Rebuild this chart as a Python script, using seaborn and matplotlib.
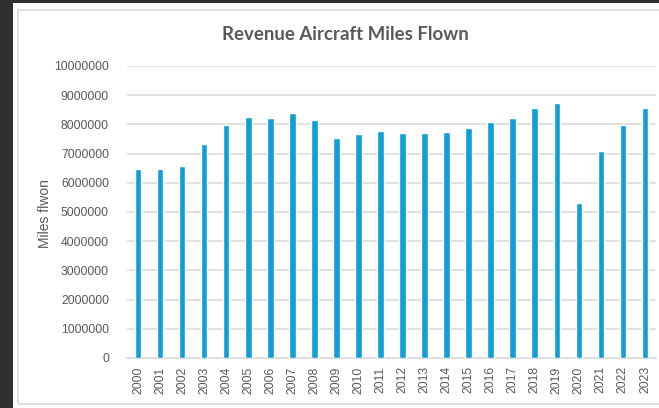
import matplotlib
matplotlib.use("Agg")
import matplotlib.pyplot as plt
from matplotlib.patches import Rectangle
import seaborn as sns
import pandas as pd

years = [str(y) for y in range(2000, 2024)]
miles_flown = [
    6460000, 6460000, 6560000, 7330000, 7970000, 8260000, 8210000, 8400000,
    8140000, 7520000, 7670000, 7760000, 7720000, 7720000, 7740000, 7870000,
    8070000, 8210000, 8550000, 8740000, 5300000, 7100000, 7990000, 8570000,
]
y_ticks = list(range(0, 10000001, 1000000))

title_text = "Revenue Aircraft Miles Flown"
y_label = "Miles flwon"

bar_color = "#0F9ED5"
grid_color = "#D9D9D9"
text_color = "#595959"

df = pd.DataFrame({"year": years, "miles": miles_flown})

sns.set_theme(style="white")
plt.rcParams["font.family"] = ["Liberation Sans", "DejaVu Sans"]

W, H = 659, 408
fig = plt.figure(figsize=(W / 100, H / 100), dpi=100, facecolor="#303030")

# white chart panel with a thin light border, kept beneath the axes
fig.patches.append(Rectangle((13 / W, 0), 1, 1 - 3 / H, transform=fig.transFigure,
                             facecolor="white", edgecolor="none", zorder=-2))
fig.patches.append(Rectangle((18 / W, 1 - 404 / H), 1, (404 - 10) / H,
                             transform=fig.transFigure, facecolor="none",
                             edgecolor="#DCDCDC", linewidth=1.2, zorder=-1))

ax = fig.add_axes([127 / W, 1 - 358 / H, 529 / W, (358 - 66) / H])
ax.set_facecolor("none")
ax.set_zorder(2)

sns.barplot(data=df, x="year", y="miles", color=bar_color, width=0.3,
            saturation=1, ax=ax, zorder=3)

ax.set_ylim(0, 10000000)
ax.set_xlim(-0.5, len(years) - 0.5)
ax.set_yticks(y_ticks)
ax.set_yticklabels([str(v) for v in y_ticks])
ax.set_axisbelow(True)
ax.yaxis.grid(True, color=grid_color, linewidth=1.1)
ax.xaxis.grid(False)
for side in ["top", "right", "left"]:
    ax.spines[side].set_visible(False)
ax.spines["bottom"].set_color(grid_color)
ax.spines["bottom"].set_linewidth(1.1)
ax.tick_params(axis="both", length=0, labelsize=8.7, colors=text_color)
ax.tick_params(axis="y", pad=13)
ax.tick_params(axis="x", pad=6)
plt.setp(ax.get_xticklabels(), rotation=90)
ax.set_xlabel("")
ax.set_ylabel("")

fig.text(45 / W, 1 - 214 / H, y_label, rotation=90, ha="center", va="center",
         fontsize=10, color=text_color)
fig.text(345 / W, 1 - 34 / H, title_text, ha="center", va="center",
         fontsize=13.4, fontweight="bold", color=text_color, family="Lato")

fig.savefig("out.png", dpi=100, facecolor=fig.get_facecolor())
